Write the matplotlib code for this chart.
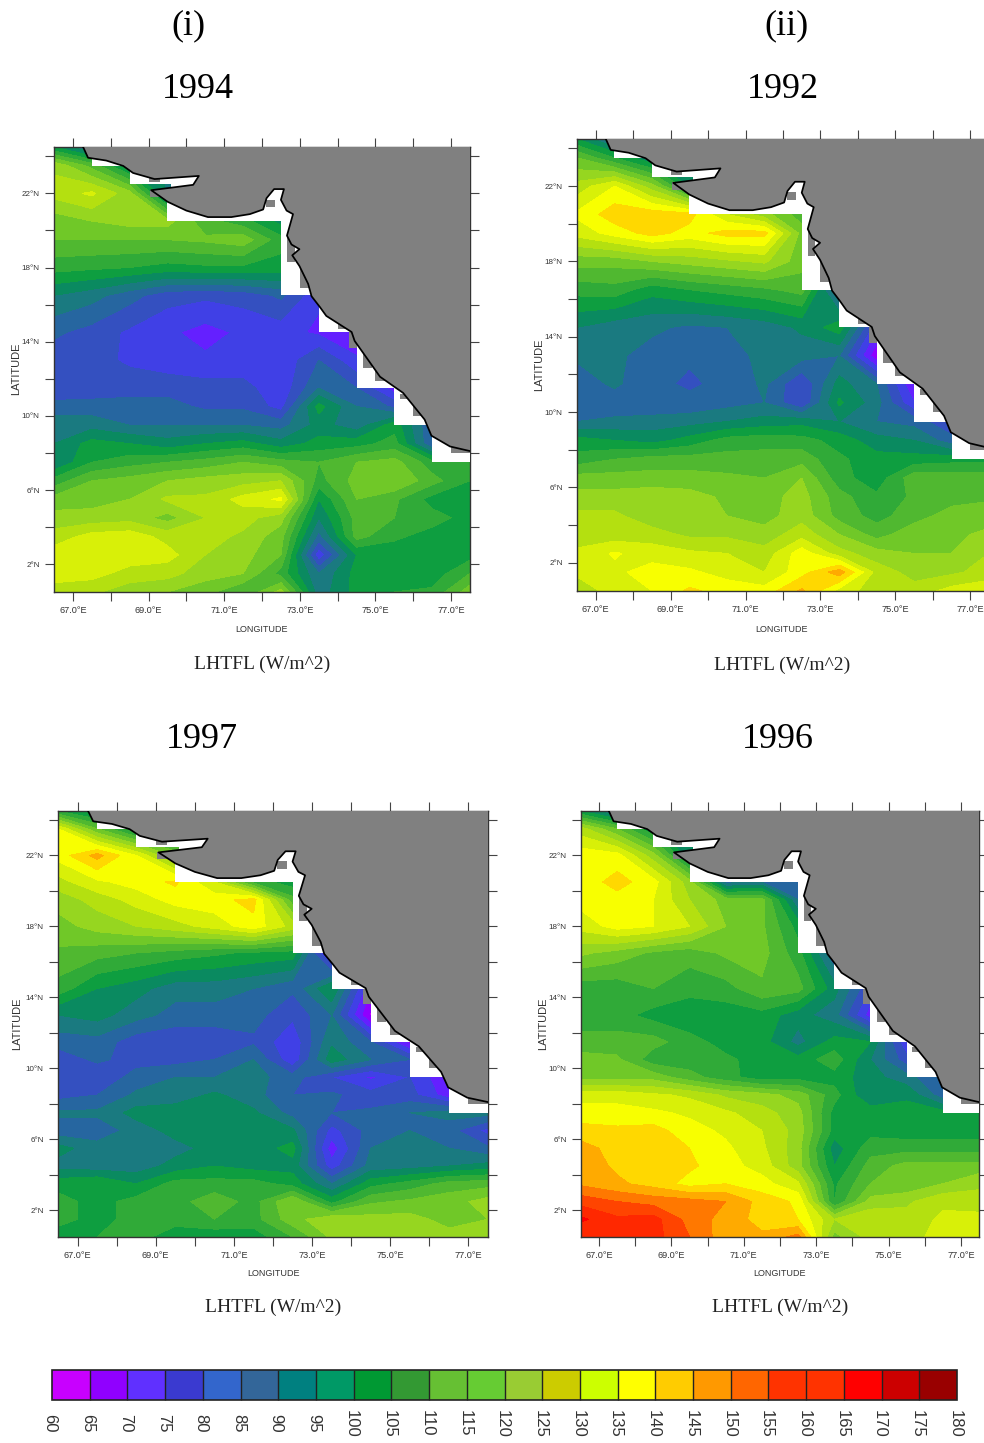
import numpy as np
import matplotlib
matplotlib.use("Agg")
import matplotlib.pyplot as plt
from matplotlib.colors import ListedColormap, BoundaryNorm
from matplotlib.cm import ScalarMappable
from matplotlib.patches import Polygon, Rectangle
from matplotlib.transforms import ScaledTranslation

W, H = 984, 1443

lons = [66.5, 67.5, 68.5, 69.5, 70.5, 71.5, 72.5, 73.5, 74.5, 75.5, 76.5, 77.5]
lats = [0.5, 1.5, 2.5, 3.5, 4.5, 5.5, 6.5, 7.5, 8.5, 9.5, 10.5, 11.5,
        13, 14.5, 16.5, 18, 19.5, 20.5, 22, 23.5, 24.5]
levels = list(range(60, 185, 5))

map_colors = ['#c800ff', '#8f00ff', '#6420ff', '#4040e6', '#3450c0', '#2666a0', '#1a7a80', '#0a8a60',
              '#0e9e40', '#30aa38', '#50b830', '#70c828', '#96d620', '#b4e010', '#d8f008', '#f8ff00',
              '#ffd800', '#ffaa00', '#ff7800', '#ff4400', '#ff2800', '#ff0000', '#cc0000', '#990000']
legend_colors = ['#c800ff', '#9000ff', '#6030ff', '#3a3ad0', '#3366cc', '#336699', '#008080', '#009966',
                 '#009933', '#339933', '#66c033', '#66cc33', '#99cc33', '#cccc00', '#ccff00', '#ffff00',
                 '#ffcc00', '#ff9900', '#ff6600', '#ff3300', '#ff3300', '#ff0000', '#cc0000', '#990000']

v1994 = [
 [128,126,122,120,117,110,122, 92,102,105,106,118],
 [132,132,128,127,122,120,108, 90,102,102,102,110],
 [133,134,133,132,125,122,115, 76,100,102,102,103],
 [127,132,133,128,127,124,117, 88,112,106,103,102],
 [122,122,123,118,125,127,122, 95,112,110,107,103],
 [117,118,120,126,126,132,136,100,115,111,103,102],
 [107,115,117,120,122,123,125,108,117,120,112,105],
 [ 95,105,108,110,112,115,112,110,115,117,107,107],
 [ 95,102,100, 97,100,102, 97,102,103,107, 85, 85],
 [ 93, 93, 90, 90, 90, 90, 88, 97, 92,103, 85, 85],
 [ 87, 87, 87, 87, 84, 84, 78,102, 90, 84, 84, 84],
 [ 81, 82, 83, 83, 82, 82, 76, 90, 85, 72, 72, 72],
 [ 82, 82, 79, 77, 76, 76, 76, 85, 76, 64, 64, 64],
 [ 86, 83, 79, 76, 73, 76, 77, 74, 70, 70, 70, 70],
 [ 95, 92, 87, 82, 81, 82, 86, 76, 70, 70, 70, 70],
 [107,106,105,103,104,104,103,103,103,103,103,103],
 [115,115,115,115,116,118,107,107,107,107,107,107],
 [117,120,122,122,112,107, 98, 98, 98, 98, 98, 98],
 [127,131,122, 92, 92, 92, 92, 92, 92, 92, 92, 92],
 [124,113, 97, 95, 95, 95, 95, 95, 95, 95, 95, 95],
 [100, 88, 85, 85, 85, 85, 85, 85, 85, 85, 85, 85],
]
v1992 = [
 [127,132,135,141,138,137,146,133,127,127,132,134],
 [131,134,137,136,133,130,138,148,128,123,124,127],
 [132,135.5,133,131,130,127,138,127,122,120,120,125],
 [125,127,127,124,124,122,128,120,113,118,119,121],
 [126,126,122,122,120,118,123,113,108,113,117,118],
 [122,122,123,122,119,118,122,112,106,111,113,114],
 [117,117,117,117,116,115,120,107,102,113,113,113],
 [107,110,112,112,112,112,113,106,102,102,103,103],
 [102,100, 98,102,107,108,107,103, 97, 95, 87, 86],
 [ 90, 91, 92, 93, 95, 97, 98, 95, 90, 88, 80, 80],
 [ 86, 87, 86, 86, 88, 90, 80,101, 92, 75, 75, 75],
 [ 87, 91, 86,84.4, 86, 91, 80, 97, 90, 70, 70, 70],
 [ 91, 91, 88,85.5, 87, 92, 92, 90, 66, 66, 66, 66],
 [ 95, 92, 91, 89, 90, 92, 96,103, 76, 76, 76, 76],
 [107,108,102,105,107,109,112, 84, 84, 84, 84, 84],
 [117,117,120,122,124,126,117,117,117,117,117,117],
 [132,137,142,138,142,142,118,118,118,118,118,118],
 [136,143,143,142,130,122,112,112,112,112,112,112],
 [127,135,122,100,100,100,100,100,100,100,100,100],
 [115,105, 95, 95, 95, 95, 95, 95, 95, 95, 95, 95],
 [100, 88, 85, 85, 85, 85, 85, 85, 85, 85, 85, 85],
]
v1997 = [
 [102,105,107,102,101,102,110,121,122,122,122,122],
 [107,103,107,107,110,108,118,124,122,122,118,120],
 [107,103,107,108,113,108,120,103,114,116,118,122],
 [103,105,100,107,107,107,103, 90,103,107,112,113],
 [ 93, 92, 92, 97,100, 98, 98, 77, 92, 93, 95, 97],
 [ 97, 92, 92, 93, 97, 97,102, 72, 90, 92, 90, 86],
 [ 87, 87, 92, 97, 98, 97, 96, 78, 87, 90, 87, 78],
 [ 91, 91, 97, 98, 98, 96, 88, 85, 86, 90, 92, 92],
 [ 83, 85, 91, 92, 96, 92, 85, 86, 82, 82, 72, 72],
 [ 81, 81, 87, 90, 90, 92, 87, 80, 74, 80, 70, 70],
 [ 82, 86, 83, 83, 85, 90, 76, 98, 90, 85, 70, 70],
 [ 87, 88, 82, 81, 81, 84, 76, 94, 85, 68, 68, 68],
 [ 95, 97, 92, 88, 88, 87, 81, 90, 64, 64, 64, 64],
 [108,100, 97, 92, 92, 90, 86,100, 70, 70, 70, 70],
 [114,112,110,108,106,104,103, 70, 70, 70, 70, 70],
 [118,122,125,128,132,138,128,128,128,128,128,128],
 [122,127,132,137,138,142,112,112,112,112,112,112],
 [128,134,137,141,130,108,102,102,102,102,102,102],
 [137,147,135,118,105,105,105,105,105,105,105,105],
 [135,115,100,100,100,100,100,100,100,100,100,100],
 [105, 97, 90, 90, 90, 90, 90, 90, 90, 90, 90, 90],
]
v1996 = [
 [160,162,162,155,147,146,152,118,127,127,133,132],
 [166,161,162,153,148,143,140,125,129,127,131,132],
 [158,155,153,152,150,143,139,105,122,124,129,127],
 [149,146,143,138,140,137,131,104,115,116,120,124],
 [148,144,142,141,137,133,122,100,112,117,117,117],
 [147,143,142,140,136,131,122, 97,108,108,108,108],
 [142,141,142,137,134,130,123,103,103,102,102,102],
 [137,137,136,134,131,127,122,103,103,102,102,102],
 [133,133,131,129,124,122,118,107, 95, 99, 87, 87],
 [118,118,118,112,107,102,103,103, 97, 92, 84, 84],
 [117,116,107,107,106,103,102,108, 95, 82, 82, 82],
 [112,112,112,107,103,102, 93,102,100, 75, 75, 75],
 [107,107,103,101,102,103, 97, 92, 72, 72, 72, 72],
 [107,107,110,107,108,114,112, 97, 80, 80, 80, 80],
 [121,118,114,112,116,117,107, 85, 85, 85, 85, 85],
 [132,137,135,130,120,116,103,103,103,103,103,103],
 [137,138,135,125,118,117, 90, 90, 90, 90, 90, 90],
 [137,142,137,122, 88, 90, 85, 85, 85, 85, 85, 85],
 [138,137,122, 97, 97, 97, 97, 97, 97, 97, 97, 97],
 [127,115,100,100,100,100,100,100,100,100,100,100],
 [100, 88, 85, 85, 85, 85, 85, 85, 85, 85, 85, 85],
]

coast_lon = [67.27,67.4,67.88,68.33,68.59,69.16,70.33,70.18,69.65,69.07,69.3,69.5,70.0,70.57,71.19,71.68,
             72.03,72.12,72.32,72.58,72.5,72.65,72.82,72.66,72.78,72.99,72.8,72.99,73.22,73.31,73.53,73.7,
             74.37,74.45,74.85,75.12,75.73,76.3,76.48,76.97,77.5]
coast_lat = [24.5,23.92,23.77,23.48,23.1,22.77,22.94,22.46,22.32,22.17,21.84,21.55,21.07,20.72,20.72,20.88,
             21.13,21.74,22.23,22.23,21.65,21.07,20.88,19.72,19.24,18.99,18.66,18.08,17.12,16.45,15.87,15.39,
             14.52,14.04,12.89,12.11,11.24,9.8,8.93,8.35,8.1]
# coastal grid edge where the ocean field stops
edge_lon = [77.5,76.5,76.5,75.5,75.5,74.5,74.5,73.5,73.5,72.5,72.5,69.5,69.5,72.0,72.0,77.5]
edge_lat = [7.5,7.5,9.5,9.5,11.5,11.5,14.5,14.5,16.5,16.5,20.5,20.5,21.7,21.7,22.3,22.3]
# missing boxes (lon0, lat0, dlon, dlat)
white_boxes = [(67.5,23.5,0.83,0.42),(68.5,22.5,1.15,0.7),(69.6,22.3,0.85,0.75)]
grey_boxes = [(72.1,21.26,0.25,0.4),(72.66,18.3,0.2,1.4),(73.0,16.9,0.3,1.2),(74.0,14.7,0.3,0.5),
              (74.3,13.65,0.2,0.85),(74.67,12.6,0.23,1.05),(75.0,11.9,0.5,0.6),(75.65,10.9,0.3,0.3),
              (76.0,10.0,0.3,0.9),(77.0,8.0,0.5,0.35),(69.0,22.6,0.3,0.3),(69.03,21.8,0.27,0.4)]

tick_lons = list(range(67, 78))
tick_lats = list(range(2, 25, 2))

panels = [
 dict(vals=v1994, box=(54,147,470,592), title='1994', tp=(198,90), lon=(262,629), cap=(262,664), lat=(16,369), head=('(i)',188)),
 dict(vals=v1992, box=(577,139,989,591), title='1992', tp=(783,90), lon=(782,629), cap=(782,665), lat=(539,365), head=('(ii)',786)),
 dict(vals=v1997, box=(58,811,488,1237), title='1997', tp=(202,740), lon=(273,1273), cap=(273,1307), lat=(17,1024), head=None),
 dict(vals=v1996, box=(581,811,979,1237), title='1996', tp=(778,740), lon=(780,1273), cap=(780,1307), lat=(543,1024), head=None),
]

fig = plt.figure(figsize=(W/100, H/100), dpi=100, facecolor='white')
SANS = 'Liberation Sans'
SERIF = 'Liberation Serif'
DARK = '#333333'

def px_axes(x0, y0, x1, y1):
    return fig.add_axes([x0/W, 1-y1/H, (x1-x0)/W, (y1-y0)/H])

def px_text(x, y, s, **kw):
    fig.text(x/W, 1-y/H, s, ha='center', va='center', **kw)

map_cmap = ListedColormap(map_colors)
norm = BoundaryNorm(levels, map_cmap.N)

for p in panels:
    ax = px_axes(*p['box'])
    ax.contourf(lons, lats, np.array(p['vals'], dtype=float), levels=levels, cmap=map_cmap, norm=norm)
    ax.set_xlim(66.5, 77.5)
    ax.set_ylim(0.5, 24.5)
    ax.add_patch(Polygon(list(zip(edge_lon, edge_lat)), closed=True, fc='white', ec='none', zorder=3))
    for b in white_boxes:
        ax.add_patch(Rectangle(b[:2], b[2], b[3], fc='white', ec='none', zorder=3))
    for b in grey_boxes:
        ax.add_patch(Rectangle(b[:2], b[2], b[3], fc='#808080', ec='none', zorder=4))
    land = list(zip(coast_lon, coast_lat)) + [(77.5, 24.5)]
    ax.add_patch(Polygon(land, closed=True, fc='#808080', ec='none', zorder=4))
    ax.plot(coast_lon, coast_lat, color='black', lw=1.25, zorder=5)
    ax.set_xticks(tick_lons)
    ax.set_xticklabels([f'{v}.0°E' if (v % 2 == 1) else '' for v in tick_lons],
                       fontsize=6.6, family=SANS, color=DARK)
    ax.set_yticks(tick_lats)
    ax.set_yticklabels([f'{v}°N' if (v % 4 == 2) else '' for v in tick_lats],
                       fontsize=5.8, family=SANS, color=DARK)
    ax.tick_params(axis='both', which='major', direction='out', top=True, right=True,
                   length=6.3, width=0.8, color='#444444', pad=4)
    for s in ax.spines.values():
        s.set_color('#333333')
        s.set_linewidth(1.0)
    px_text(*p['tp'], p['title'], fontsize=26, family=SERIF, color='black')
    px_text(*p['lon'], 'LONGITUDE', fontsize=6.5, family=SANS, color=DARK)
    px_text(*p['lat'], 'LATITUDE', fontsize=8.0, family=SANS, color=DARK, rotation=90)
    px_text(*p['cap'], 'LHTFL (W/m^2)', fontsize=14, family=SERIF, color='#222222')
    if p['head']:
        px_text(p['head'][1], 26, p['head'][0], fontsize=26, family=SERIF, color='black')

cax = px_axes(52, 1370, 957, 1400)
cb = fig.colorbar(ScalarMappable(norm=BoundaryNorm(levels, 24), cmap=ListedColormap(legend_colors)),
                  cax=cax, orientation='horizontal', ticks=levels, drawedges=True, spacing='uniform')
cb.dividers.set_color('#222222')
cb.dividers.set_linewidth(1.0)
cb.outline.set_edgecolor('#222222')
cb.outline.set_linewidth(1.2)
cax.tick_params(axis='x', length=0, pad=17)
cax.set_xticks(levels)
cax.set_xticklabels([str(v) for v in levels], rotation=270, fontsize=12, family=SANS, color='#333333', va='center')
shift = ScaledTranslation(-2/100, 0, fig.dpi_scale_trans)
for lab in cax.get_xticklabels():
    lab.set_transform(lab.get_transform() + shift)

fig.savefig('out.png', dpi=100)
